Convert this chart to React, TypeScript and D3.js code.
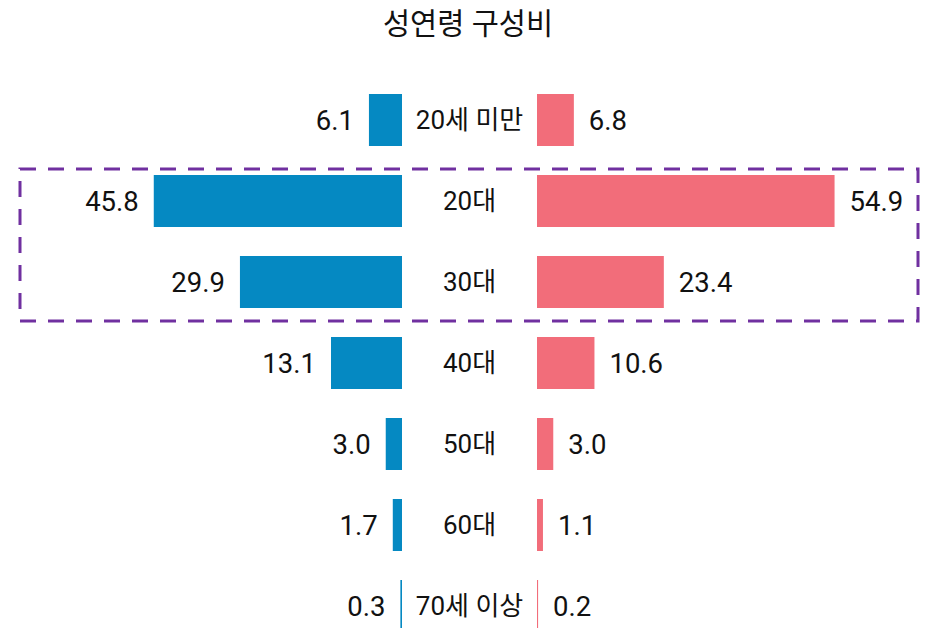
import React from "react";
import * as d3 from "d3";

const categories = ["20세 미만", "20대", "30대", "40대", "50대", "60대", "70세 이상"];
const maleValues = [6.1, 45.8, 29.9, 13.1, 3.0, 1.7, 0.3];
const femaleValues = [6.8, 54.9, 23.4, 10.6, 3.0, 1.1, 0.2];
const title = "성연령 구성비";

const W = 926;
const H = 628;
const FONT = "Roboto, 'Noto Sans CJK KR', sans-serif";

export default function App() {
  const leftBase = 402;
  const rightBase = 537;
  const pxPerUnit = 5.42;
  const xL = d3.scaleLinear().domain([0, 1]).range([leftBase, leftBase - pxPerUnit]);
  const xR = d3.scaleLinear().domain([0, 1]).range([rightBase, rightBase + pxPerUnit]);
  const y = d3
    .scaleBand<string>()
    .domain(categories)
    .range([79.5, 79.5 + 81 * categories.length])
    .paddingInner(0.358)
    .paddingOuter(0.179);
  const bw = y.bandwidth();
  const mid = (leftBase + rightBase) / 2;

  const boxTop = (y("20대") as number) - 6;
  const boxBottom = (y("30대") as number) + bw + 13;

  return (
    <div style={{ position: "absolute", left: 0, top: 0, width: W, height: H, background: "#fff" }}>
      <svg width={W} height={H} style={{ display: "block" }}>
        <text
          x={W / 2 + 5}
          y={24}
          textAnchor="middle"
          dominantBaseline="central"
          fontFamily={FONT}
          fontWeight={400}
          fontSize={29.5}
          fill="#111"
        >
          {title}
        </text>
        {categories.map((c, i) => {
          const y0 = y(c) as number;
          const cy = y0 + bw / 2;
          const lw = leftBase - xL(maleValues[i]);
          const rw = xR(femaleValues[i]) - rightBase;
          return (
            <g key={c}>
              <rect x={xL(maleValues[i])} y={y0} width={lw} height={bw} fill="#0589c2" />
              <rect x={rightBase} y={y0} width={rw} height={bw} fill="#f26d7a" />
              <text
                x={xL(maleValues[i]) - 15}
                y={cy}
                textAnchor="end"
                dominantBaseline="central"
                fontFamily={FONT}
                fontWeight={400}
                fontSize={27.5}
                fill="#111"
              >
                {maleValues[i].toFixed(1)}
              </text>
              <text
                x={xR(femaleValues[i]) + 15}
                y={cy}
                textAnchor="start"
                dominantBaseline="central"
                fontFamily={FONT}
                fontWeight={400}
                fontSize={27.5}
                fill="#111"
              >
                {femaleValues[i].toFixed(1)}
              </text>
              <text
                x={mid}
                y={cy}
                textAnchor="middle"
                dominantBaseline="central"
                fontFamily={FONT}
                fontWeight={400}
                fontSize={26}
                fill="#111"
              >
                {c}
              </text>
            </g>
          );
        })}
        <rect
          x={20}
          y={boxTop}
          width={898}
          height={boxBottom - boxTop}
          fill="none"
          stroke="#7030a0"
          strokeWidth={3}
          strokeDasharray="16 12"
        />
      </svg>
    </div>
  );
}
